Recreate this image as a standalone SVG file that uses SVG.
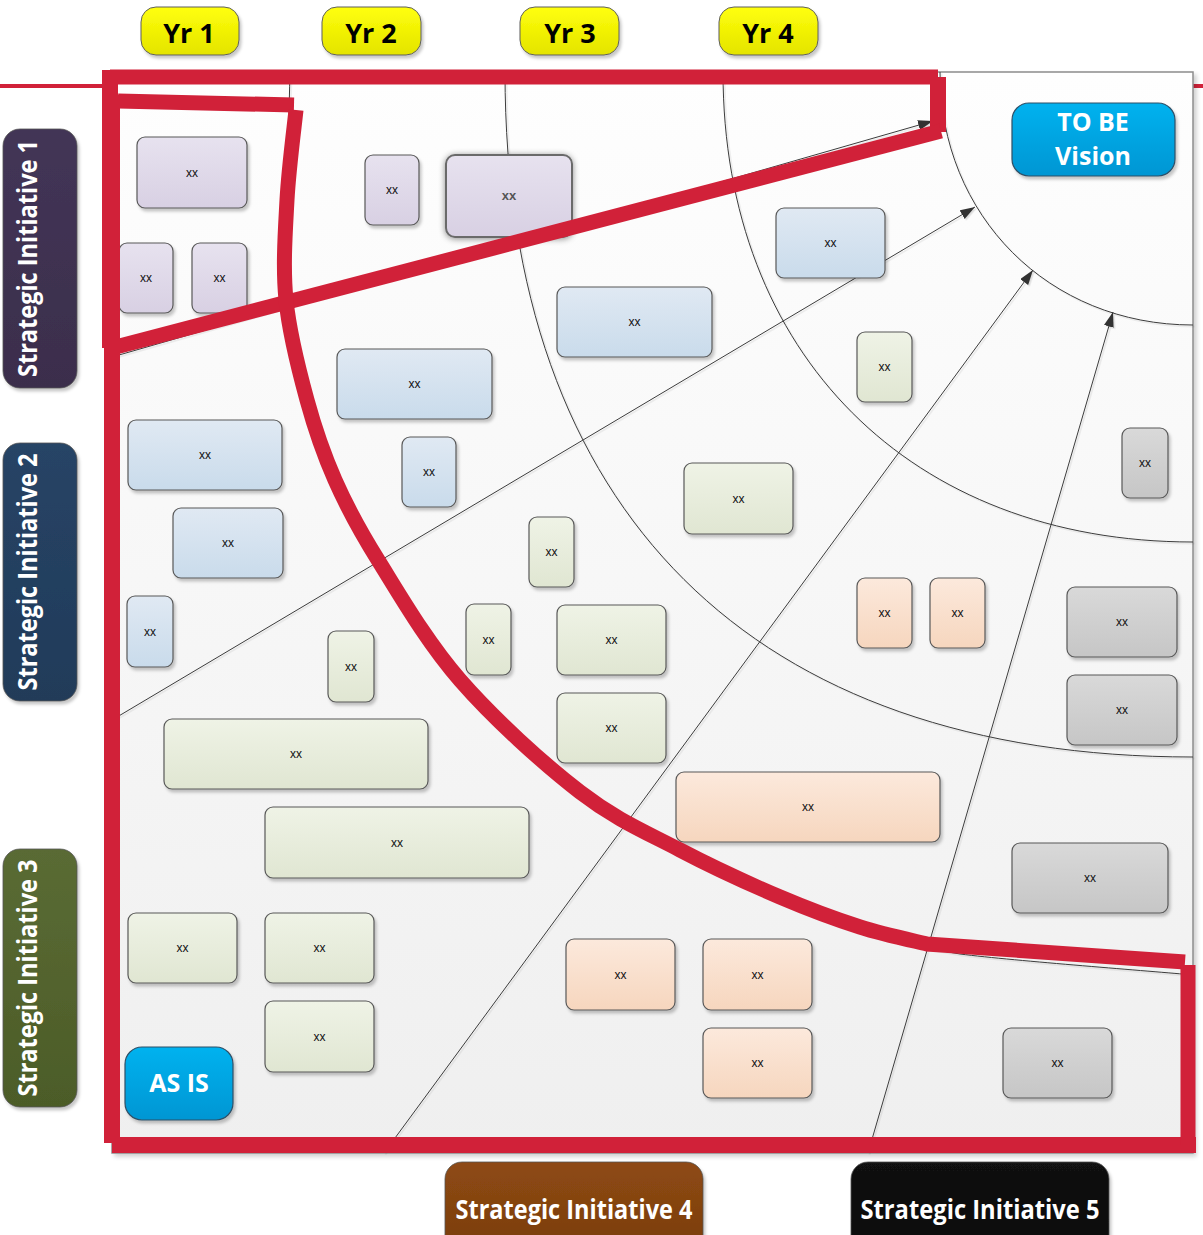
<svg xmlns="http://www.w3.org/2000/svg" width="1203" height="1235" viewBox="0 0 1203 1235">
<defs>
  <linearGradient id="gPanel" x1="0" y1="0" x2="0" y2="1"><stop offset="0" stop-color="#fefefe"/><stop offset="1" stop-color="#efefef"/></linearGradient>
  <linearGradient id="gPurple" x1="0" y1="0" x2="0" y2="1"><stop offset="0" stop-color="#e7e2ef"/><stop offset="1" stop-color="#d8d0e3"/></linearGradient>
  <linearGradient id="gBlue" x1="0" y1="0" x2="0" y2="1"><stop offset="0" stop-color="#e0e9f3"/><stop offset="1" stop-color="#c9dbeb"/></linearGradient>
  <linearGradient id="gGreen" x1="0" y1="0" x2="0" y2="1"><stop offset="0" stop-color="#eff3e6"/><stop offset="1" stop-color="#e0e6d2"/></linearGradient>
  <linearGradient id="gOrange" x1="0" y1="0" x2="0" y2="1"><stop offset="0" stop-color="#fce9dc"/><stop offset="1" stop-color="#f6d6be"/></linearGradient>
  <linearGradient id="gGray" x1="0" y1="0" x2="0" y2="1"><stop offset="0" stop-color="#d9d9d9"/><stop offset="1" stop-color="#c6c6c6"/></linearGradient>
  <linearGradient id="gYellow" x1="0" y1="0" x2="0" y2="1"><stop offset="0" stop-color="#ffff0a"/><stop offset="1" stop-color="#e4e400"/></linearGradient>
  <linearGradient id="gCyan" x1="0" y1="0" x2="0" y2="1"><stop offset="0" stop-color="#00b2ef"/><stop offset="1" stop-color="#0096d3"/></linearGradient>
  <linearGradient id="gSI1" x1="0" y1="0" x2="0" y2="1"><stop offset="0" stop-color="#433556"/><stop offset="1" stop-color="#3b2e4c"/></linearGradient>
  <linearGradient id="gSI2" x1="0" y1="0" x2="0" y2="1"><stop offset="0" stop-color="#274466"/><stop offset="1" stop-color="#213b59"/></linearGradient>
  <linearGradient id="gSI3" x1="0" y1="0" x2="0" y2="1"><stop offset="0" stop-color="#5a6b34"/><stop offset="1" stop-color="#4c5c28"/></linearGradient>
  <linearGradient id="gSI4" x1="0" y1="0" x2="0" y2="1"><stop offset="0" stop-color="#8e4a13"/><stop offset="1" stop-color="#7a3d0e"/></linearGradient>
  <linearGradient id="gSI5" x1="0" y1="0" x2="0" y2="1"><stop offset="0" stop-color="#121212"/><stop offset="1" stop-color="#080808"/></linearGradient>
  <filter id="sh" x="-20%" y="-20%" width="150%" height="150%"><feDropShadow dx="2" dy="3" stdDeviation="1.5" flood-color="#000" flood-opacity="0.22"/></filter>
  <filter id="shBig" x="-30%" y="-30%" width="170%" height="170%"><feDropShadow dx="0" dy="1" stdDeviation="3" flood-color="#000" flood-opacity="0.45"/></filter>
  <filter id="shP" x="-5%" y="-5%" width="110%" height="110%"><feDropShadow dx="3" dy="3" stdDeviation="2" flood-color="#000" flood-opacity="0.18"/></filter>
  <filter id="shL" x="-10%" y="-10%" width="120%" height="120%"><feDropShadow dx="1.5" dy="1.5" stdDeviation="0.6" flood-color="#000" flood-opacity="0.12"/></filter>
  <marker id="arr" markerUnits="userSpaceOnUse" markerWidth="16" markerHeight="12" refX="15" refY="5" orient="auto">
    <path d="M0 0 L15 5 L0 10 Z" fill="#333"/>
  </marker>
</defs>
<style>
  .node rect{stroke:#595959;stroke-width:1.2;filter:url(#sh)}
  .purple rect{fill:url(#gPurple)}
  .blue rect{fill:url(#gBlue)}
  .green rect{fill:url(#gGreen)}
  .orange rect{fill:url(#gOrange)}
  .gray rect{fill:url(#gGray)}
  .node text{font-family:"Liberation Sans",Arial,sans-serif;font-size:12px;text-anchor:middle;fill:#111}
  .conn{fill:none;stroke:#3c3c3c;stroke-width:1}
  .red{fill:none;stroke:#d12139;stroke-width:15;stroke-linecap:butt}
  .lbl{font-family:"Open Sans","Liberation Sans",sans-serif;font-weight:bold;text-anchor:middle}
  .yr rect{fill:url(#gYellow);stroke:#5f5f5f;stroke-width:1;filter:url(#sh)}
  .yr text{fill:#000;font-size:27px}
  .si rect{stroke:#555;stroke-width:0.8;filter:url(#sh)}
  .si text{fill:#fff;font-size:26px}
  .cyan rect{fill:url(#gCyan);stroke:#2f4f66;stroke-width:1.2;filter:url(#sh)}
  .cyan text{fill:#fff;font-size:25px}
</style>

<rect width="1203" height="1235" fill="#fff"/>
<path d="M0 86 H1203" stroke="#d12139" stroke-width="4"/>

<rect id="panel" x="112" y="72" width="1081" height="1081" fill="url(#gPanel)" stroke="#8c8c8c" stroke-width="1.5" filter="url(#shP)"/>

<g id="connectors" filter="url(#shL)">
  <path class="conn" d="M940 72 C940 216 1049 325 1193 325"/>
  <path class="conn" d="M723 72 C723 354 911 542 1193 542"/>
  <path class="conn" d="M505 72 C505 512 753 757 1193 757"/>
  <path class="conn" d="M290 72 C289 110 288 160 287 200 C285.3 231.7 282.7 266.7 286 300 C289.3 333.3 298.8 370 307 400 C315.2 430 323.2 453.3 335 480 C346.8 506.7 357.2 526.7 378 560 C398.8 593.3 426.3 641.3 460 680 C493.7 718.7 543.3 763.7 580 792 C616.7 820.3 646.7 832.5 680 850 C713.3 867.5 750 884.2 780 897 C810 909.8 830 920 860 928 C890 936.3 904.5 945 960 954 C1015.5 961 1154 971.3 1193 975"/>
  <path class="conn" d="M112 357 L933 121" marker-end="url(#arr)"/>
  <path class="conn" d="M112 720 L975 207" marker-end="url(#arr)"/>
  <path class="conn" d="M384 1153 L1033 270" marker-end="url(#arr)"/>
  <path class="conn" d="M868 1153 L1113 312" marker-end="url(#arr)"/>
</g>

<g id="n1" class="node purple"><rect x="137" y="137" width="110" height="71" rx="8"/><text x="192" y="176.5">xx</text></g>
<g id="n2" class="node purple"><rect x="119" y="243" width="54" height="70" rx="8"/><text x="146" y="282">xx</text></g>
<g id="n3" class="node purple"><rect x="192" y="243" width="55" height="70" rx="8"/><text x="219.5" y="282">xx</text></g>
<g id="n4" class="node purple"><rect x="365" y="155" width="54" height="70" rx="8"/><text x="392" y="194">xx</text></g>
<g id="n5" class="node purple"><rect x="446" y="155" width="126" height="82" rx="9" style="stroke:#6a6a6a;stroke-width:2;filter:url(#shBig)"/><text x="509" y="200" style="fill:#555;font-weight:bold;font-size:13px">xx</text></g>
<g id="n6" class="node blue"><rect x="776" y="208" width="109" height="70" rx="8"/><text x="830.5" y="247">xx</text></g>
<g id="n7" class="node blue"><rect x="557" y="287" width="155" height="70" rx="8"/><text x="634.5" y="326">xx</text></g>
<g id="n8" class="node blue"><rect x="337" y="349" width="155" height="70" rx="8"/><text x="414.5" y="388">xx</text></g>
<g id="n9" class="node blue"><rect x="128" y="420" width="154" height="70" rx="8"/><text x="205" y="459">xx</text></g>
<g id="n10" class="node blue"><rect x="402" y="437" width="54" height="70" rx="8"/><text x="429" y="476">xx</text></g>
<g id="n11" class="node blue"><rect x="173" y="508" width="110" height="70" rx="8"/><text x="228" y="547">xx</text></g>
<g id="n12" class="node blue"><rect x="127" y="596" width="46" height="71" rx="8"/><text x="150" y="635.5">xx</text></g>
<g id="n13" class="node green"><rect x="857" y="332" width="55" height="70" rx="8"/><text x="884.5" y="371">xx</text></g>
<g id="n14" class="node green"><rect x="684" y="463" width="109" height="71" rx="8"/><text x="738.5" y="502.5">xx</text></g>
<g id="n15" class="node green"><rect x="529" y="517" width="45" height="70" rx="8"/><text x="551.5" y="556">xx</text></g>
<g id="n16" class="node green"><rect x="466" y="604" width="45" height="71" rx="8"/><text x="488.5" y="643.5">xx</text></g>
<g id="n17" class="node green"><rect x="557" y="605" width="109" height="70" rx="8"/><text x="611.5" y="644">xx</text></g>
<g id="n18" class="node green"><rect x="328" y="631" width="46" height="71" rx="8"/><text x="351" y="670.5">xx</text></g>
<g id="n19" class="node green"><rect x="557" y="693" width="109" height="70" rx="8"/><text x="611.5" y="732">xx</text></g>
<g id="n20" class="node green"><rect x="164" y="719" width="264" height="70" rx="8"/><text x="296" y="758">xx</text></g>
<g id="n21" class="node green"><rect x="265" y="807" width="264" height="71" rx="8"/><text x="397" y="846.5">xx</text></g>
<g id="n22" class="node green"><rect x="128" y="913" width="109" height="70" rx="8"/><text x="182.5" y="952">xx</text></g>
<g id="n23" class="node green"><rect x="265" y="913" width="109" height="70" rx="8"/><text x="319.5" y="952">xx</text></g>
<g id="n24" class="node green"><rect x="265" y="1001" width="109" height="71" rx="8"/><text x="319.5" y="1040.5">xx</text></g>
<g id="n25" class="node orange"><rect x="857" y="578" width="55" height="70" rx="8"/><text x="884.5" y="617">xx</text></g>
<g id="n26" class="node orange"><rect x="930" y="578" width="55" height="70" rx="8"/><text x="957.5" y="617">xx</text></g>
<g id="n27" class="node orange"><rect x="676" y="772" width="264" height="70" rx="8"/><text x="808" y="811">xx</text></g>
<g id="n28" class="node orange"><rect x="566" y="939" width="109" height="71" rx="8"/><text x="620.5" y="978.5">xx</text></g>
<g id="n29" class="node orange"><rect x="703" y="939" width="109" height="71" rx="8"/><text x="757.5" y="978.5">xx</text></g>
<g id="n30" class="node orange"><rect x="703" y="1028" width="109" height="70" rx="8"/><text x="757.5" y="1067">xx</text></g>
<g id="n31" class="node gray"><rect x="1122" y="428" width="46" height="70" rx="8"/><text x="1145" y="467">xx</text></g>
<g id="n32" class="node gray"><rect x="1067" y="587" width="110" height="70" rx="8"/><text x="1122" y="626">xx</text></g>
<g id="n33" class="node gray"><rect x="1067" y="675" width="110" height="70" rx="8"/><text x="1122" y="714">xx</text></g>
<g id="n34" class="node gray"><rect x="1012" y="843" width="156" height="70" rx="8"/><text x="1090" y="882">xx</text></g>
<g id="n35" class="node gray"><rect x="1003" y="1028" width="109" height="70" rx="8"/><text x="1057.5" y="1067">xx</text></g>

<g id="tobe" class="cyan"><rect x="1012" y="103" width="163" height="73" rx="17"/><text class="lbl" x="1093" y="131">TO BE</text><text class="lbl" x="1093" y="165">Vision</text></g>
<g id="asis" class="cyan"><rect x="125" y="1047" width="108" height="73" rx="17"/><text class="lbl" x="179" y="1092">AS IS</text></g>

<g id="yr1" class="yr"><rect x="141" y="7" width="98" height="48" rx="15"/><text class="lbl" x="189" y="43">Yr 1</text></g>
<g id="yr2" class="yr"><rect x="322" y="7" width="99" height="48" rx="15"/><text class="lbl" x="371" y="43">Yr 2</text></g>
<g id="yr3" class="yr"><rect x="520" y="7" width="99" height="48" rx="15"/><text class="lbl" x="570" y="43">Yr 3</text></g>
<g id="yr4" class="yr"><rect x="719" y="7" width="99" height="48" rx="15"/><text class="lbl" x="768" y="43">Yr 4</text></g>

<g id="si1" class="si"><rect x="3" y="129" width="74" height="259" rx="17" fill="url(#gSI1)"/><text class="lbl" transform="translate(37 258.5) rotate(-90)" textLength="237" lengthAdjust="spacingAndGlyphs">Strategic Initiative 1</text></g>
<g id="si2" class="si"><rect x="3" y="443" width="74" height="258" rx="17" fill="url(#gSI2)"/><text class="lbl" transform="translate(37 572) rotate(-90)" textLength="237" lengthAdjust="spacingAndGlyphs">Strategic Initiative 2</text></g>
<g id="si3" class="si"><rect x="3" y="849" width="74" height="258" rx="17" fill="url(#gSI3)"/><text class="lbl" transform="translate(37 978) rotate(-90)" textLength="237" lengthAdjust="spacingAndGlyphs">Strategic Initiative 3</text></g>
<g id="si4" class="si"><rect x="445" y="1162" width="258" height="90" rx="17" fill="url(#gSI4)"/><text class="lbl" x="574" y="1219" font-size="25" textLength="237" lengthAdjust="spacingAndGlyphs">Strategic Initiative 4</text></g>
<g id="si5" class="si"><rect x="851" y="1162" width="258" height="90" rx="17" fill="url(#gSI5)"/><text class="lbl" x="980" y="1219" font-size="25" textLength="239" lengthAdjust="spacingAndGlyphs">Strategic Initiative 5</text></g>

<g id="annotations">
  <path class="red" d="M110 77 H938"/>
  <path class="red" d="M938 77 V132" style="stroke-width:16"/>
  <path class="red" d="M941 131 L112 348"/>
  <path class="red" d="M110 70 V348" style="stroke-width:16"/>
  <path class="red" d="M118 101 L294 105"/>
  <path class="red" d="M296 110 C294.5 125 288.7 168.3 287 200 C285.3 231.7 282.7 266.7 286 300 C289.3 333.3 298.8 370 307 400 C315.2 430 323.2 453.3 335 480 C346.8 506.7 357.2 526.7 378 560 C398.8 593.3 426.3 641.3 460 680 C493.7 718.7 543.3 763.7 580 792 C616.7 820.3 646.7 832.5 680 850 C713.3 867.5 750 884.2 780 897 C810 909.8 835.5 919.2 860 927 C884.5 934.8 915.8 941.2 927 944 L1185 962"/>
  <path class="red" d="M112 95 V1143" style="stroke-width:16"/>
  <path class="red" d="M112 1145 H1196" style="stroke-width:16"/>
  <path class="red" d="M1188 965 V1145"/>
</g>
</svg>
